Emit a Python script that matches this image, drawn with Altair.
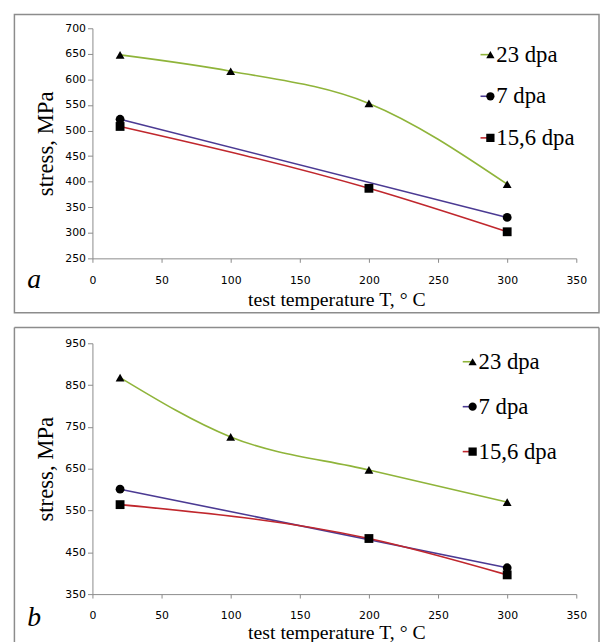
import altair as alt
import pandas as pd

SERIES = ["23 dpa", "7 dpa", "15,6 dpa"]
COLORS = ["#8FB43A", "#4B3A93", "#C0272D"]
SHAPES = ["triangle-up", "circle", "square"]
SIZES = [80, 80, 45]

T_23 = [20, 100, 200, 300]
T_7 = [20, 300]
T_156 = [20, 200, 300]

A_23 = [648, 616, 553, 395]
A_7 = [522, 330]
A_156 = [508, 387, 302]

B_23 = [868, 726, 647, 570]
B_7 = [601, 413]
B_156 = [564, 483, 396]

X_TICKS = [0, 50, 100, 150, 200, 250, 300, 350]
A_Y_TICKS = [250, 300, 350, 400, 450, 500, 550, 600, 650, 700]
B_Y_TICKS = [350, 450, 550, 650, 750, 850, 950]

X_TITLE = "test temperature T, ° C"
Y_TITLE = "stress, MPa"
BOX = "#8c8c8c"
SERIF = "Liberation Serif, Times New Roman, serif"
SANS = "DejaVu Sans"


def frame(s23, s7, s156):
    rows = []
    for name, ts, vs in zip(SERIES, [T_23, T_7, T_156], [s23, s7, s156]):
        for t, v in zip(ts, vs):
            rows.append({"series": name, "T": t, "stress": v})
    return pd.DataFrame(rows)


ONE = pd.DataFrame({"k": [0]})
LEG = pd.DataFrame({"series": SERIES})

color_enc = alt.Color("series:N", scale=alt.Scale(domain=SERIES, range=COLORS), legend=None)
shape_enc = alt.Shape("series:N", scale=alt.Scale(domain=SERIES, range=SHAPES), legend=None)
size_enc = alt.Size("series:N", scale=alt.Scale(domain=SERIES, range=SIZES), legend=None)


def panel(df, y_ticks, height, xtitle_y, letter, letter_y, leg_cx, leg_rows,
          box_top, box_bottom, closed):
    x = alt.X("T:Q", scale=alt.Scale(domain=[0, 350], nice=False, zero=False),
              axis=alt.Axis(values=X_TICKS, title=X_TITLE, titleX=247, titleY=xtitle_y,
                            titleAlign="center", titleBaseline="alphabetic",
                            titleFont=SERIF, titleFontWeight="normal", titleColor="black",
                            titleFontSize=20, tickSize=4, labelPadding=12,
                            labelFont=SANS, labelFontSize=11, labelColor="#000",
                            labelFlush=False, labelOverlap=False, grid=False,
                            domainColor="#8a8a8a", tickColor="#8a8a8a"))
    y = alt.Y("stress:Q", scale=alt.Scale(domain=[y_ticks[0], y_ticks[-1]], nice=False, zero=False),
              axis=alt.Axis(values=y_ticks, title=Y_TITLE, titleX=-47, titleY=height / 2,
                            titleAngle=-90, titleAlign="center", titleBaseline="middle",
                            titleFont=SERIF, titleFontWeight="normal", titleColor="black",
                            titleFontSize=23, tickSize=5, labelPadding=2,
                            labelFont=SANS, labelFontSize=11, labelColor="#000",
                            labelFlush=False, labelOverlap=False, grid=False,
                            domainColor="#8a8a8a", tickColor="#8a8a8a"))
    lines = alt.Chart(df).mark_line(interpolate="monotone", strokeWidth=1.6).encode(
        x=x, y=y, color=color_enc)
    points = alt.Chart(df).mark_point(filled=True, opacity=1, color="black").encode(
        x=x, y=y, shape=shape_enc, size=size_enc)
    data_layer = alt.layer(lines, points)

    ly = alt.Y("series:N", scale=alt.Scale(type="point", domain=SERIES, range=leg_rows, padding=0),
               axis=None)
    leg_line = alt.Chart(LEG).mark_rule(strokeWidth=1.6).encode(
        x=alt.value(leg_cx - 10), x2=alt.value(leg_cx), y=ly, color=color_enc)
    leg_pts = alt.Chart(LEG).mark_point(filled=True, opacity=1, color="black").encode(
        x=alt.value(leg_cx), y=ly, shape=shape_enc, size=alt.value(70))
    leg_txt = alt.Chart(LEG).mark_text(align="left", baseline="middle", font=SERIF, fontSize=23,
                                       color="black").encode(
        x=alt.value(leg_cx + 6), y=ly, text="series:N")
    legend_layer = alt.layer(leg_line, leg_pts, leg_txt)

    if closed:
        box = alt.Chart(ONE).mark_rect(fill="white", fillOpacity=0, stroke=BOX, strokeWidth=1.5).encode(
            x=alt.value(-79), x2=alt.value(513), y=alt.value(box_top), y2=alt.value(box_bottom))
        boxes = [box]
    else:
        left = alt.Chart(ONE).mark_rule(color=BOX, strokeWidth=1.5).encode(
            x=alt.value(-79), y=alt.value(box_top), y2=alt.value(box_bottom))
        top = alt.Chart(ONE).mark_rule(color=BOX, strokeWidth=1.5).encode(
            x=alt.value(-79), x2=alt.value(513), y=alt.value(box_top))
        right = alt.Chart(ONE).mark_rule(color=BOX, strokeWidth=1.5).encode(
            x=alt.value(513), y=alt.value(box_top), y2=alt.value(box_bottom))
        boxes = [left, top, right]
    lab = alt.Chart(ONE).mark_text(text=letter, font=SERIF, fontStyle="italic",
                                   fontSize=28, align="left", baseline="alphabetic",
                                   color="black").encode(x=alt.value(-66), y=alt.value(letter_y))
    return alt.layer(*boxes, data_layer, legend_layer, lab).resolve_scale(
        y="independent").properties(width=490, height=height)


pa = panel(frame(A_23, A_7, A_156), A_Y_TICKS, 233, 48, "a", 263, 403, [26.7, 111],
           -14, 288, True)
pb = panel(frame(B_23, B_7, B_156), B_Y_TICKS, 254, 45, "b", 286, 385, [18.7, 109.7],
           -16, 310, False)

chart = alt.vconcat(pa, pb, spacing=13).resolve_scale(
    shape="independent", size="independent", color="independent", x="independent", y="independent"
).properties(
    padding={"left": 5.5, "top": 1.5, "right": 0, "bottom": -10}
).configure_view(stroke=None)

chart.save("out.html", embed_options={"renderer": "svg", "actions": False})
